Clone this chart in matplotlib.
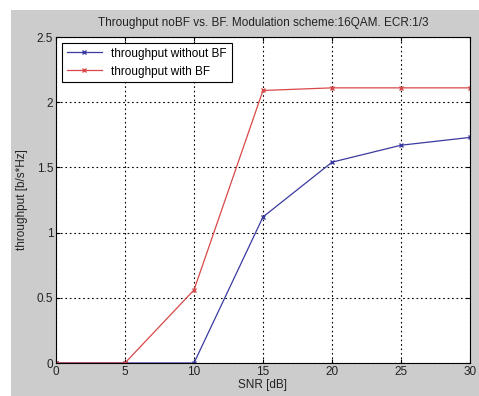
from matplotlib import pyplot as plt
from matplotlib.patches import Rectangle

snr = [0, 5, 10, 15, 20, 25, 30]
thr_no_bf = [0, 0, 0, 1.12, 1.54, 1.67, 1.73]
thr_bf = [0, 0, 0.56, 2.09, 2.11, 2.11, 2.11]
xticks = [0, 5, 10, 15, 20, 25, 30]
yticks = [0, 0.5, 1, 1.5, 2, 2.5]

plt.rcParams['font.family'] = ['Liberation Sans', 'DejaVu Sans']
plt.rcParams['font.size'] = 8.5

fig = plt.figure(figsize=(4.79, 3.96), dpi=100, facecolor='white')
# grey window area, leaving a thin white strip at left and top
fig.patches.append(Rectangle((11/479, 0), 1, 1 - 10/396, transform=fig.transFigure,
                             facecolor='#cccccc', edgecolor='none', zorder=-1))

ax = fig.add_axes([56/479, 1 - 363/396, (470-56)/479, (363-37)/396])
ax.set_facecolor('white')

ax.plot(snr, thr_no_bf, color='#3a3aa0', marker='x', markersize=3.5, linewidth=0.9,
        label='throughput without BF')
ax.plot(snr, thr_bf, color='#d84848', marker='x', markersize=3.5, linewidth=0.9,
        label='throughput with BF')

ax.set_xlim(0, 30)
ax.set_ylim(0, 2.5)
ax.set_xticks(xticks)
ax.set_yticks(yticks)
ax.set_xticklabels([str(t) for t in xticks])
ax.set_yticklabels(['0', '0.5', '1', '1.5', '2', '2.5'])
ax.tick_params(direction='in', length=3, color='black', labelcolor='#222222',
               top=True, right=True, pad=2)
ax.grid(True, linestyle=(0, (1.5, 2.5)), color='black', linewidth=0.8)
for s in ax.spines.values():
    s.set_linewidth(0.8)

ax.set_title('Throughput noBF vs. BF. Modulation scheme:16QAM. ECR:1/3',
             fontsize=8.5, color='#222222', pad=8)
ax.set_xlabel('SNR [dB]', color='#222222', labelpad=1)
ax.set_ylabel('throughput [b/s*Hz]', color='#222222', labelpad=6)

leg = ax.legend(loc='upper left', fancybox=False, framealpha=1, edgecolor='black',
                borderaxespad=0.5, handlelength=3, fontsize=8.5)
leg.get_frame().set_linewidth(0.8)

plt.savefig('out.png', dpi=100, facecolor=fig.get_facecolor())
